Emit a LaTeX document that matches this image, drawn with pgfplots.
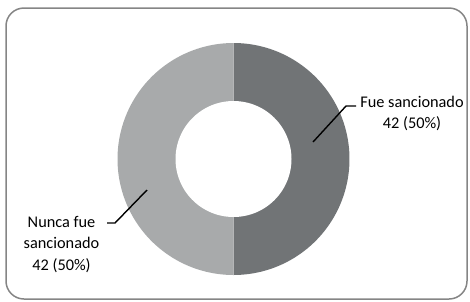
\documentclass[border=0pt]{standalone}
\usepackage{pgfplots}
\usepackage{pgfplotstable}
\pgfplotsset{compat=1.18}
\usepackage{fontspec}
\setmainfont{Carlito}
\definecolor{darkslice}{HTML}{717476}
\definecolor{lightslice}{HTML}{A8AAAB}
\definecolor{frame}{HTML}{858585}
\pgfplotstableread{
label value
Fue 42
Nunca 42
}\donutdata
\pgfplotstablegetelem{0}{value}\of\donutdata \let\va\pgfplotsretval
\pgfplotstablegetelem{1}{value}\of\donutdata \let\vb\pgfplotsretval
\pgfmathsetmacro\total{\va+\vb}
\pgfmathsetmacro\angA{90-360*\va/\total}
\pgfmathsetmacro\angB{\angA-360*\vb/\total}
\begin{document}
\begin{tikzpicture}
\begin{axis}[
  x=1pt, y=1pt, y dir=reverse,
  xmin=0, xmax=470, ymin=0, ymax=301,
  hide axis, clip=false, scale only axis,
]
\path (axis cs:0,0) rectangle (axis cs:470,301);
\draw[frame, line width=1.5pt, rounded corners=18pt] (axis cs:6,8) rectangle (axis cs:467,299);
\addplot[fill=darkslice, draw=none, domain=\angA:90, samples=120] ({233.5+116*cos(x)},{159-116*sin(x)}) -- (axis cs:233.5,159) -- cycle;
\addplot[fill=lightslice, draw=none, domain=\angB:\angA, samples=120] ({233.5+116*cos(x)},{159-116*sin(x)}) -- (axis cs:233.5,159) -- cycle;
\addplot[fill=white, draw=none, domain=0:360, samples=120] ({233.5+58*cos(x)},{159-58*sin(x)}) -- cycle;
\draw[black, line width=1.4pt] (axis cs:313,142) -- (axis cs:346,106) -- (axis cs:356,106);
\draw[black, line width=1.4pt] (axis cs:147,190) -- (axis cs:115,223) -- (axis cs:107,223);
\node[align=center, font=\fontsize{16.3}{21.5}\selectfont, inner sep=0pt] at (axis cs:412,113.5) {Fue sancionado\\42 (50\%)};
\node[align=center, font=\fontsize{16.3}{21.5}\selectfont, inner sep=0pt] at (axis cs:61.5,244.5) {Nunca fue\\sancionado\\42 (50\%)};
\end{axis}
\end{tikzpicture}
\end{document}
